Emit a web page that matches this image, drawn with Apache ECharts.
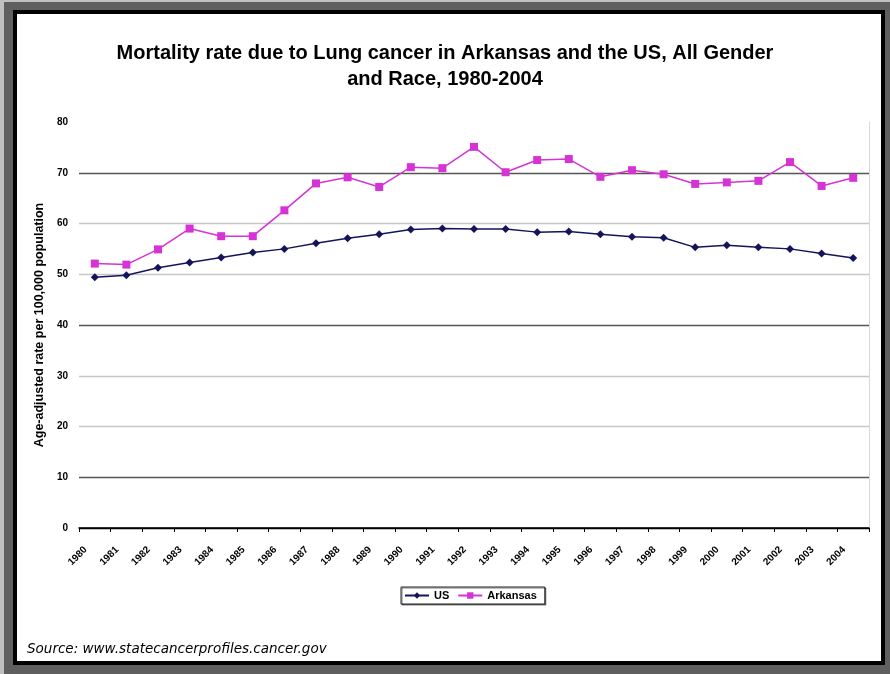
<!DOCTYPE html>
<html>
<head>
<meta charset="utf-8">
<script src="https://cdn.jsdelivr.net/npm/echarts@6/dist/echarts.min.js"></script>
<style>
  html, body { margin: 0; padding: 0; background: #fff; }
  #frame {
    position: absolute; left: 0; top: 0; width: 890px; height: 674px;
    box-sizing: border-box; background: #5f5f5f;
    border-left: 4px solid #c0c0c0; border-top: 2px solid #c0c0c0;
  }
  #paper {
    position: absolute; left: 13px; top: 10px; width: 872px; height: 655px;
    box-sizing: border-box; border: 4px solid #000; background: #fff;
  }
  #chart { position: absolute; left: 0; top: 0; width: 890px; height: 674px; }
</style>
</head>
<body>
<div id="frame"></div>
<div id="paper"></div>
<div id="chart"></div>
<script>
// Age-adjusted lung cancer mortality per 100,000, 1980-2004
const years = ['1980','1981','1982','1983','1984','1985','1986','1987','1988','1989',
               '1990','1991','1992','1993','1994','1995','1996','1997','1998','1999',
               '2000','2001','2002','2003','2004'];
const usRates = [49.4, 49.8, 51.3, 52.3, 53.3, 54.3, 55.0, 56.1, 57.1, 57.9,
                 58.8, 59.0, 58.9, 58.9, 58.3, 58.4, 57.9, 57.4, 57.2, 55.3,
                 55.7, 55.3, 55.0, 54.1, 53.2];
const arkansasRates = [52.1, 51.9, 54.9, 59.0, 57.5, 57.5, 62.6, 67.9, 69.1, 67.2,
                       71.1, 70.9, 75.1, 70.1, 72.5, 72.7, 69.2, 70.5, 69.7, 67.8,
                       68.1, 68.4, 72.1, 67.4, 69.0];
const yTicks = { min: 0, max: 80, step: 10 };

const chart = echarts.init(document.getElementById('chart'), null, { renderer: 'canvas' });
const font = 'Liberation Sans, Arial, sans-serif';

chart.setOption({
  backgroundColor: 'transparent',
  animation: false,
  title: {
    text: 'Mortality rate due to Lung cancer in Arkansas and the US, All Gender\nand Race, 1980-2004',
    left: 'center',
    top: 35,
    textStyle: { fontFamily: font, fontSize: 20, fontWeight: 'bold', color: '#000', lineHeight: 26 }
  },
  legend: {
    left: 401,
    top: 587,
    padding: [3, 8, 3, 3],
    itemWidth: 24,
    itemHeight: 8,
    itemGap: 8,
    borderColor: '#222',
    borderWidth: 1,
    shadowColor: 'rgba(0,0,0,0.5)',
    shadowOffsetX: 1,
    shadowOffsetY: 1,
    backgroundColor: '#fff',
    textStyle: { fontFamily: font, fontSize: 11, fontWeight: 'bold', color: '#000' },
    data: ['US', 'Arkansas']
  },
  graphic: [{
    type: 'text',
    left: 27,
    top: 642,
    style: {
      text: 'Source: www.statecancerprofiles.cancer.gov',
      font: 'italic 13.5px DejaVu Sans, sans-serif',
      fill: '#000'
    }
  }],
  grid: { left: 79, right: 21, top: 122, bottom: 146 },
  xAxis: {
    type: 'category',
    data: years,
    boundaryGap: true,
    axisLine: { lineStyle: { color: '#000', width: 1.5 } },
    axisTick: { show: true, length: 4, lineStyle: { color: '#000' } },
    axisLabel: {
      rotate: 45, margin: 11, padding: [0, 13, 0, 0],
      fontFamily: font, fontSize: 10, fontWeight: 'bold', color: '#000', interval: 0
    },
    splitLine: { show: false }
  },
  yAxis: [{
    type: 'value',
    min: yTicks.min,
    max: yTicks.max,
    interval: yTicks.step,
    name: 'Age-adjusted rate per 100,000 population',
    nameLocation: 'middle',
    nameGap: 33,
    nameTextStyle: { fontFamily: font, fontSize: 12.5, fontWeight: 'bold', color: '#000' },
    axisLine: { show: false },
    axisTick: { show: false },
    axisLabel: { margin: 11, fontFamily: font, fontSize: 10, fontWeight: 'bold', color: '#000' },
    splitLine: {
      show: true,
      lineStyle: {
        width: 1.3,
        color: ['#000', '#555', '#c8c8c8', '#c8c8c8', '#555', '#c8c8c8', '#c8c8c8', '#555', 'rgba(0,0,0,0)']
      }
    }
  }, {
    type: 'value',
    position: 'right',
    min: yTicks.min,
    max: yTicks.max,
    interval: yTicks.step,
    axisLine: { show: true, lineStyle: { color: '#d8d8d8' } },
    axisTick: { show: false },
    axisLabel: { show: false },
    splitLine: { show: false }
  }],
  series: [{
    name: 'US',
    type: 'line',
    data: usRates,
    symbol: 'diamond',
    symbolSize: 8,
    color: '#14145a',
    lineStyle: { color: '#14145a', width: 1.5 },
    itemStyle: { color: '#14145a' }
  }, {
    name: 'Arkansas',
    type: 'line',
    data: arkansasRates,
    symbol: 'rect',
    symbolSize: 8,
    color: '#d633d6',
    lineStyle: { color: '#d633d6', width: 1.5 },
    itemStyle: { color: '#d633d6' }
  }]
});
</script>
</body>
</html>
